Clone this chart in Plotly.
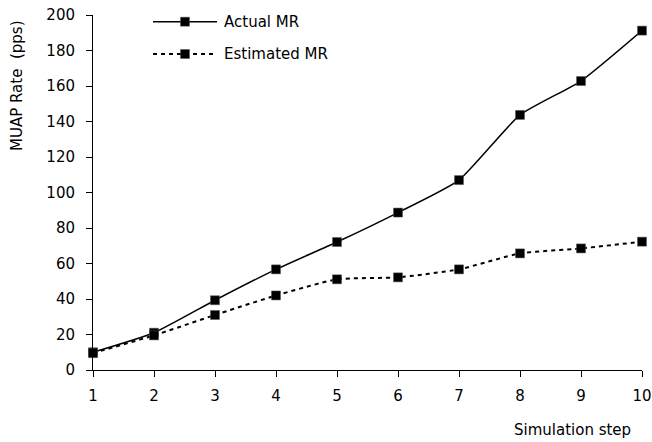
import plotly.graph_objects as go

steps = [1, 2, 3, 4, 5, 6, 7, 8, 9, 10]
actual_mr = [10, 21, 39.3, 56.7, 72.1, 88.7, 107, 143.7, 162.8, 191.2]
estimated_mr = [9.5, 19.5, 31, 42, 51.1, 52.2, 56.7, 65.7, 68.5, 72.3]
y_ticks = [0, 20, 40, 60, 80, 100, 120, 140, 160, 180, 200]
series_names = ["Actual MR", "Estimated MR"]

FONT = "DejaVu Sans"
FS = 15
DASH = "4px,4px"

fig = go.Figure()
fig.add_trace(go.Scatter(
    x=steps, y=actual_mr, mode="lines+markers", name=series_names[0],
    line=dict(color="black", width=1.5, shape="spline", smoothing=0.5),
    marker=dict(symbol="square", size=9, color="black",
                line=dict(color="#555", width=0.5)),
    showlegend=False, cliponaxis=False))
fig.add_trace(go.Scatter(
    x=steps, y=estimated_mr, mode="lines+markers", name=series_names[1],
    line=dict(color="black", width=2, dash=DASH, shape="spline", smoothing=0.5),
    marker=dict(symbol="square", size=9, color="black",
                line=dict(color="#555", width=0.5)),
    showlegend=False, cliponaxis=False))

W, H = 652, 442
L, R, T, B = 93, 10, 15, 72
pw, ph = W - L - R, H - T - B

def px(xp):
    return (xp - L) / pw

def py(yp):
    return (H - B - yp) / ph

shapes = []
annotations = []
# manual legend
rows = [(21.7, "solid", 1.5, series_names[0]), (54, DASH, 2, series_names[1])]
for yy, dash, w, name in rows:
    shapes.append(dict(type="line", xref="paper", yref="paper",
                       x0=px(153), x1=px(217), y0=py(yy), y1=py(yy),
                       line=dict(color="black", width=w, dash=dash)))
    shapes.append(dict(type="rect", xref="paper", yref="paper",
                       xsizemode="pixel", ysizemode="pixel",
                       xanchor=px(185), yanchor=py(yy),
                       x0=-4.5, x1=4.5, y0=-4.5, y1=4.5,
                       fillcolor="black", line=dict(color="#555", width=0.5)))
    annotations.append(dict(text=name, xref="paper", yref="paper",
                            x=px(222), y=py(yy), xanchor="left", yanchor="middle",
                            showarrow=False, font=dict(family=FONT, size=FS, color="black")))

annotations.append(dict(text="MUAP Rate  (pps)", xref="paper", yref="paper",
                        x=px(17), y=py(86), textangle=-90, xanchor="center", yanchor="middle",
                        showarrow=False, font=dict(family=FONT, size=FS, color="black")))
annotations.append(dict(text="Simulation step", xref="paper", yref="paper",
                        x=px(633), y=py(430), xanchor="right", yanchor="middle",
                        showarrow=False, font=dict(family=FONT, size=FS, color="black")))

fig.update_layout(
    width=W, height=H,
    margin=dict(l=L, r=R, t=T, b=B, pad=0, autoexpand=False),
    paper_bgcolor="white", plot_bgcolor="white",
    font=dict(family=FONT, size=FS, color="black"),
    shapes=shapes, annotations=annotations,
    xaxis=dict(range=[1, 10], tickmode="array", tickvals=steps, automargin=False,
               showgrid=False, zeroline=False, showline=True, linecolor="black", linewidth=1,
               ticks="outside", ticklen=6, tickcolor="black", ticklabelstandoff=6,
               tickfont=dict(family=FONT, size=FS)),
    yaxis=dict(range=[0, 200], tickmode="array", tickvals=y_ticks, automargin=False,
               showgrid=False, zeroline=False, showline=True, linecolor="black", linewidth=1,
               ticks="outside", ticklen=6, tickcolor="black", ticklabelstandoff=8,
               tickfont=dict(family=FONT, size=FS)),
)

fig.write_html("out.html")
